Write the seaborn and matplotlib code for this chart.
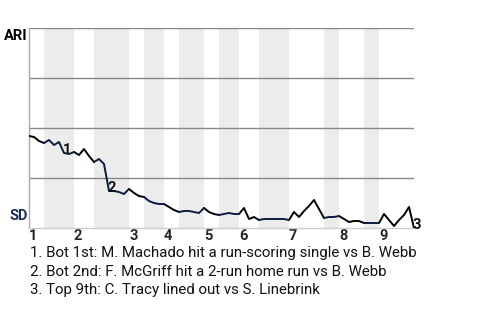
import matplotlib
matplotlib.use("Agg")
import matplotlib.pyplot as plt
import seaborn as sns
import pandas as pd
import numpy as np

# ---- data ----
# ARI win probability after each plate appearance (0 = SD wins, 1 = ARI wins)
wp = [0.46, 0.455, 0.435, 0.425, 0.44, 0.415, 0.43, 0.375, 0.37, 0.38,
      0.365, 0.395, 0.36, 0.33, 0.345, 0.32, 0.185, 0.185, 0.18, 0.17,
      0.195, 0.175, 0.16, 0.155, 0.135, 0.125, 0.12, 0.12, 0.105, 0.09,
      0.08, 0.085, 0.085, 0.08, 0.075, 0.10, 0.08, 0.07, 0.065, 0.07,
      0.075, 0.07, 0.07, 0.10, 0.045, 0.055, 0.04, 0.045, 0.045, 0.045,
      0.045, 0.045, 0.04, 0.08, 0.055, 0.085, 0.11, 0.14, 0.095, 0.05,
      0.055, 0.055, 0.06, 0.045, 0.03, 0.035, 0.035, 0.025, 0.025, 0.025,
      0.025, 0.07, 0.04, 0.01, 0.04, 0.065, 0.105, 0.0]
# plate appearances per half inning (Top 1, Bot 1, Top 2, ...)
half_lengths = [3, 6, 4, 7, 3, 4, 3, 5, 3, 4, 4, 6, 7, 3, 5, 3, 7]
innings = ["1", "2", "3", "4", "5", "6", "7", "8", "9"]
event_idx = [7, 16, 77]
event_marks = ["1", "2", "3"]
event_texts = ["1. Bot 1st: M. Machado hit a run-scoring single vs B. Webb",
               "2. Bot 2nd: F. McGriff hit a 2-run home run vs B. Webb",
               "3. Top 9th: C. Tracy lined out vs S. Linebrink"]
teams = ["ARI", "SD"]
team_colors = {"ARI": "#000000", "SD": "#0b1d3f"}

# ---- build segments ----
bounds = np.concatenate([[0], np.cumsum(half_lengths)])
rows = []
for k in range(len(half_lengths)):
    team = teams[k % 2]
    for i in range(bounds[k], bounds[k + 1] + 1):
        rows.append({"pa": i, "wp": wp[i], "seg": k, "team": team})
df = pd.DataFrame(rows)

sns.set_style("white")
plt.rcParams["font.family"] = ["Roboto", "DejaVu Sans"]

fig = plt.figure(figsize=(4.8, 3.2), dpi=100)
ax = fig.add_axes([29 / 480, 1 - 228 / 320, (414 - 29) / 480, 200 / 320])

total = bounds[-1]
ax.set_xlim(0, total)
ax.set_ylim(0, 1)

# shaded bottom halves
for k in range(1, len(half_lengths), 2):
    ax.axvspan(bounds[k], bounds[k + 1], color="#ececec", lw=0, zorder=0)

for yv in [0.25, 0.5, 0.75, 1.0]:
    ax.axhline(yv, color="#888888", lw=1.0, zorder=1)

sns.lineplot(data=df, x="pa", y="wp", units="seg", hue="team",
             estimator=None, palette=team_colors, lw=1.4, legend=False,
             ax=ax, zorder=3)

# event markers on chart
for idx, m in zip(event_idx, event_marks):
    ax.annotate(m, (idx, wp[idx]), xytext=(-1, 2), textcoords="offset points",
                ha="left", va="center", fontsize=10.5, fontweight="bold",
                color="#111111", zorder=4)

# spines
for s in ["top", "right"]:
    ax.spines[s].set_visible(False)
ax.spines["left"].set_color("#aaaaaa")
ax.spines["left"].set_linewidth(1)
ax.spines["bottom"].set_color("#cccccc")
ax.spines["bottom"].set_linewidth(1)

# inning tick labels
starts = bounds[0:-1:2]
ax.set_xticks(starts)
ax.set_xticklabels(innings, fontweight="bold", fontsize=10.5, ha="left")
ax.tick_params(axis="x", length=0, pad=1)
ax.set_yticks([])
ax.set_xlabel("")
ax.set_ylabel("")

# team labels
ax.text(-0.004, 0.995, "ARI", transform=ax.transAxes, ha="right", va="top",
        fontsize=10.5, fontweight="bold", color="#000000")
ax.text(-0.004, 0.025, "SD", transform=ax.transAxes, ha="right", va="bottom",
        fontsize=10.5, fontweight="bold", color="#1c2d5a")

# footer
for j, t in enumerate(event_texts):
    fig.text(30 / 480, 1 - (253 + 18.5 * j) / 320, t, ha="left", va="center",
             fontsize=10.8, color="#111111")

fig.savefig("out.png", dpi=100)
